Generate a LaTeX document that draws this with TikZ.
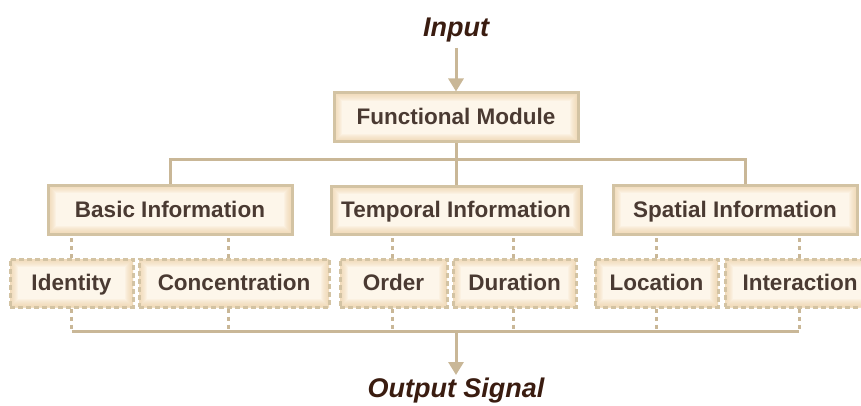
\documentclass[tikz,border=0pt]{standalone}
\usepackage{fontspec}
\setmainfont{Liberation Sans}
\usetikzlibrary{arrows.meta}

\definecolor{linetan}{HTML}{C9B797}
\definecolor{boxedge}{HTML}{D3C3A3}
\definecolor{boxfill}{HTML}{FDF6EA}
\definecolor{glow}{HTML}{EFD2A6}
\definecolor{labeltext}{HTML}{4A3A32}
\definecolor{titletext}{HTML}{3A1C10}

\tikzset{
  glowfill/.style={fill=boxfill,
    path picture={\foreach \w in {2,4,...,16}{
      \draw[solid, glow, opacity=0.13, line width=\w pt]
        (path picture bounding box.south west) rectangle (path picture bounding box.north east);}}},
  solidbox/.style={glowfill, draw=boxedge, line width=3pt, text=labeltext,
    font=\bfseries\fontsize{22.5}{25}\selectfont, inner sep=0pt, anchor=center,
    text height=16pt, text depth=1pt},
  dashbox/.style={solidbox, dash pattern=on 5pt off 3pt},
  link/.style={draw=linetan, line width=3pt},
  dotlink/.style={link, dash pattern=on 4pt off 4pt},
  flow/.style={link, -{Triangle[width=15pt,length=13pt]}},
  title/.style={text=titletext, font=\bfseries\itshape\fontsize{27}{31}\selectfont, inner sep=0pt}
}

\begin{document}
\begin{tikzpicture}[x=1pt, y=-1pt]
  \useasboundingbox (0,0) rectangle (861,406);

  % titles
  \node[title, anchor=base] (Input) at (456,37) {Input};
  \node[title, anchor=north] (Output) at (456,378) {Output Signal};

  % top module
  \node[solidbox, minimum width=244pt, minimum height=49pt] (FM) at (456,117.5) {Functional Module};

  % information categories
  \node[solidbox, minimum width=244pt, minimum height=49pt] (Basic) at (170,209.5) {Basic Information};
  \node[solidbox, minimum width=250pt, minimum height=48pt] (Temporal) at (456,210) {Temporal Information};
  \node[solidbox, minimum width=244pt, minimum height=49pt] (Spatial) at (735,209.5) {Spatial Information};

  % features
  \node[dashbox, minimum width=123pt, minimum height=48pt] (Identity) at (71.5,283) {Identity};
  \node[dashbox, minimum width=190pt, minimum height=48pt] (Concentration) at (234,283) {Concentration};
  \node[dashbox, minimum width=107pt, minimum height=48pt] (Order) at (393.5,283) {Order};
  \node[dashbox, minimum width=123pt, minimum height=48pt] (Duration) at (514.5,283) {Duration};
  \node[dashbox, minimum width=123pt, minimum height=48pt] (Location) at (656.5,283) {Location};
  \node[dashbox, minimum width=150pt, minimum height=48pt] (Interaction) at (800,283) {Interaction};

  \coordinate (split) at (456,160);
  \coordinate (merge) at (456,331);

  % input to module
  \draw[flow, shorten <=5pt] (Input.south) -- (FM.north);

  % module to categories
  \draw[link] (FM.south) -- (Temporal.north);
  \draw[link] (Basic.north) |- (split) -| ([xshift=10pt]Spatial.north);

  % categories to features
  \draw[dotlink] (Identity.north) -- (Identity.north |- Basic.south);
  \draw[dotlink] ([xshift=-6pt]Concentration.north) -- ([xshift=-6pt]Concentration.north |- Basic.south);
  \draw[dotlink] ([xshift=-1.5pt]Order.north) -- ([xshift=-1.5pt]Order.north |- Temporal.south);
  \draw[dotlink] ([xshift=-1.5pt]Duration.north) -- ([xshift=-1.5pt]Duration.north |- Temporal.south);
  \draw[dotlink] (Location.north) -- (Location.north |- Spatial.south);
  \draw[dotlink] ([xshift=-1pt]Interaction.north) -- ([xshift=-1pt]Interaction.north |- Spatial.south);

  % features to output
  \draw[dotlink] (Identity.south) -- (Identity.south |- merge);
  \draw[dotlink] ([xshift=-6pt]Concentration.south) -- ([xshift=-6pt]Concentration.south |- merge);
  \draw[dotlink] ([xshift=-1.5pt]Order.south) -- ([xshift=-1.5pt]Order.south |- merge);
  \draw[dotlink] ([xshift=-1.5pt]Duration.south) -- ([xshift=-1.5pt]Duration.south |- merge);
  \draw[dotlink] (Location.south) -- (Location.south |- merge);
  \draw[dotlink] ([xshift=-1pt]Interaction.south) -- ([xshift=-1pt]Interaction.south |- merge);
  \draw[link] (Identity.south |- merge) -- ([xshift=-1pt]Interaction.south |- merge);

  \draw[flow, shorten >=3pt] (merge) -- (Output.north);
\end{tikzpicture}
\end{document}
